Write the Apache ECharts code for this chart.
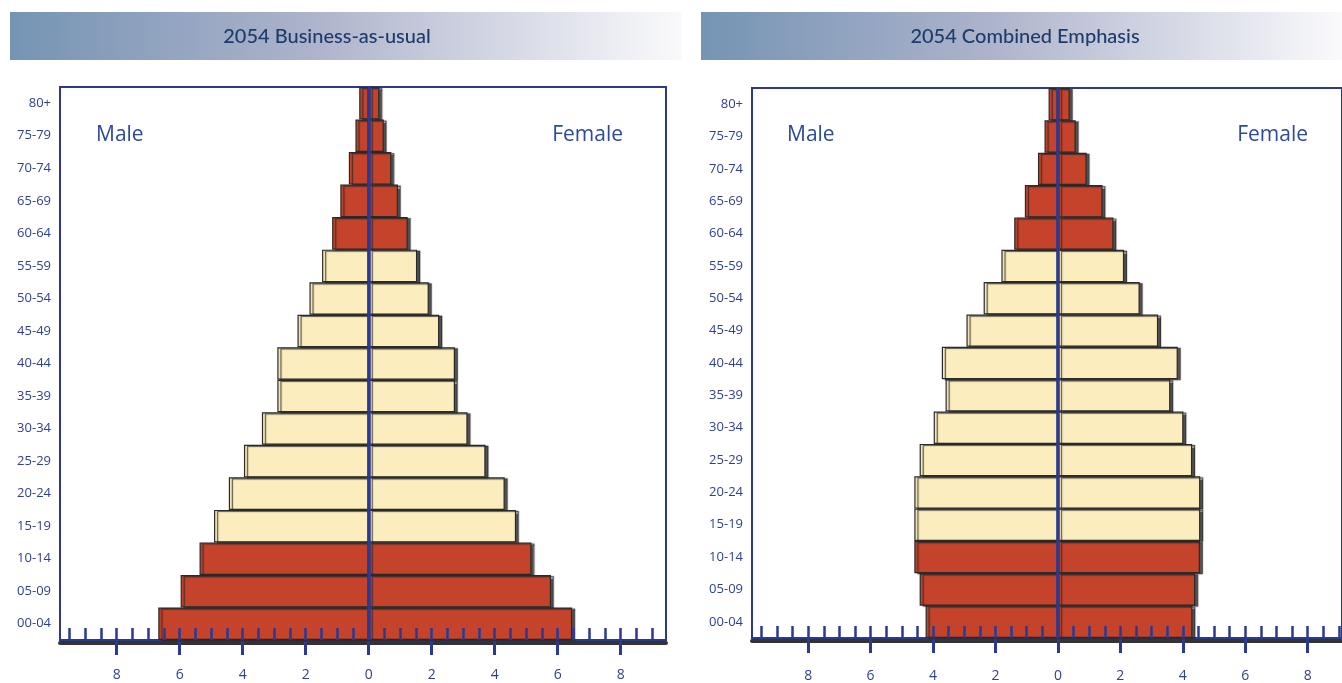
<!DOCTYPE html>
<html>
<head>
<meta charset="utf-8">
<script src="https://cdn.jsdelivr.net/npm/echarts@6/dist/echarts.min.js"></script>
<style>
  html, body { margin: 0; padding: 0; background: #fff; }
  #main { width: 1342px; height: 683px; }
</style>
</head>
<body>
<div id="main"></div>
<script>
// age groups, bottom to top
var ages = ['00-04', '05-09', '10-14', '15-19', '20-24', '25-29', '30-34', '35-39', '40-44',
            '45-49', '50-54', '55-59', '60-64', '65-69', '70-74', '75-79', '80+'];

// 2054 Business-as-usual (percent of population)
var bauMale   = [6.68, 5.97, 5.37, 4.91, 4.44, 3.96, 3.39, 2.90, 2.90, 2.26, 1.88, 1.48, 1.16, 0.90, 0.63, 0.42, 0.30];
var bauFemale = [6.46, 5.79, 5.17, 4.68, 4.32, 3.71, 3.14, 2.74, 2.74, 2.24, 1.91, 1.54, 1.24, 0.93, 0.72, 0.48, 0.34];

// 2054 Combined Emphasis
var cmbMale   = [4.24, 4.43, 4.60, 4.60, 4.60, 4.43, 3.98, 3.60, 3.72, 2.93, 2.38, 1.81, 1.40, 1.06, 0.64, 0.43, 0.30];
var cmbFemale = [4.31, 4.40, 4.55, 4.56, 4.56, 4.30, 4.02, 3.60, 3.84, 3.21, 2.62, 2.12, 1.78, 1.43, 0.92, 0.57, 0.38];

// x axis ticks
var majorTicks = [-8, -6, -4, -2, 0, 2, 4, 6, 8];
var minorTicks = [-9.5, -9, -8.5, -8, -7.5, -7, -6.5, -6, -5.5, -5, -4.5, -4, -3.5, -3, -2.5, -2, -1.5, -1, -0.5,
                  0, 0.5, 1, 1.5, 2, 2.5, 3, 3.5, 4, 4.5, 5, 5.5, 6, 6.5, 7, 7.5, 8, 8.5, 9];

var blue = '#2b3a90';
var red = '#c4432a';
var cream = '#fbedbd';

var chart = echarts.init(document.getElementById('main'));

// red = children and elderly, cream = working age
function barColor(p) {
  return (p.dataIndex < 3 || p.dataIndex >= 12) ? red : cream;
}

function xAxes(grid, max, labelMargin) {
  return [{
    gridIndex: grid, type: 'value', position: 'bottom', min: -9.8, max: max,
    axisLine: { show: true, lineStyle: { color: blue, width: 2 } },
    axisTick: { show: true, customValues: majorTicks, inside: false, length: 15,
                lineStyle: { color: blue, width: 3 } },
    axisLabel: { show: true, customValues: majorTicks, margin: labelMargin, color: '#2f3f95',
                 fontSize: 14, fontFamily: 'Open Sans',
                 formatter: function (v) { return Math.abs(v); } },
    splitLine: { show: false }
  }, {
    gridIndex: grid, type: 'value', position: 'bottom', min: -9.8, max: max, z: 10,
    axisLine: { show: false },
    axisTick: { show: true, customValues: minorTicks, inside: true, length: 12,
                lineStyle: { color: blue, width: 2.5 } },
    axisLabel: { show: false },
    splitLine: { show: false }
  }, {
    gridIndex: grid, type: 'value', position: 'bottom', min: -9.8, max: max, offset: 3,
    axisLine: { show: true, lineStyle: { color: '#333', width: 4 } },
    axisTick: { show: false },
    axisLabel: { show: false },
    splitLine: { show: false }
  }];
}

function yAxis(grid) {
  return {
    gridIndex: grid, type: 'category', data: ages,
    axisLine: { show: true, lineStyle: { color: blue, width: 2 } },
    axisTick: { show: true, alignWithLabel: true, inside: true, length: 6,
                lineStyle: { color: '#6b6fae', width: 3 } },
    axisLabel: { color: '#2f3f95', fontSize: 13, fontFamily: 'Open Sans', margin: 9 },
    splitLine: { show: false }
  };
}

function barSeries(xIdx, yIdx, values, withLine) {
  var s = {
    type: 'bar', xAxisIndex: xIdx, yAxisIndex: yIdx,
    data: values,
    barGap: '-100%', barCategoryGap: 0,
    animation: false,
    itemStyle: {
      color: barColor, borderColor: '#2a2a2a', borderWidth: 1.2,
      shadowColor: 'rgba(40,40,40,0.8)', shadowOffsetX: 3, shadowOffsetY: 1, shadowBlur: 1
    }
  };
  if (withLine) {
    s.markLine = {
      silent: true, symbol: ['none', 'none'], animation: false,
      label: { show: false },
      lineStyle: { color: blue, width: 3.5, type: 'solid' },
      data: [{ xAxis: 0 }]
    };
  }
  return s;
}

function neg(arr) { return arr.map(function (v) { return -v; }); }

function header(x, w, title, cx) {
  return [{
    type: 'rect', shape: { x: x, y: 12, width: w, height: 48 }, z: 0,
    style: { fill: { type: 'linear', x: 0, y: 0, x2: 1, y2: 0,
      colorStops: [{ offset: 0, color: '#7594b4' }, { offset: 0.45, color: '#adb3cb' },
                   { offset: 1, color: '#fafafc' }] } }
  }, {
    type: 'text', z: 1,
    style: { text: title, x: cx, y: 37, align: 'center', verticalAlign: 'middle',
             font: '500 20px Lato', fill: '#1d3b6c' }
  }];
}

function sexLabel(text, x, align) {
  return { type: 'text', z: 20,
    style: { text: text, x: x, y: 135, align: align, verticalAlign: 'middle',
             font: '21px "Open Sans"', fill: '#2b4a9c' } };
}

var option = {
  backgroundColor: '#fff',
  grid: [
    { left: 60, top: 87, width: 606, height: 553, show: true, borderColor: blue, borderWidth: 2 },
    { left: 752, top: 88, right: 0, height: 553, show: true, borderColor: blue, borderWidth: 2 }
  ],
  xAxis: xAxes(0, 9.44, 28).concat(xAxes(1, 9.1, 31)),
  yAxis: [yAxis(0), yAxis(1)],
  series: [
    barSeries(0, 0, neg(bauMale), false),
    barSeries(0, 0, bauFemale, true),
    barSeries(3, 1, neg(cmbMale), false),
    barSeries(3, 1, cmbFemale, true)
  ],
  graphic: header(10, 672, '2054 Business-as-usual', 327)
    .concat(header(701, 641, '2054 Combined Emphasis', 1025))
    .concat([
      sexLabel('Male', 96, 'left'),
      sexLabel('Female', 623, 'right'),
      sexLabel('Male', 787, 'left'),
      sexLabel('Female', 1308, 'right')
    ])
};

chart.setOption(option);
</script>
</body>
</html>
